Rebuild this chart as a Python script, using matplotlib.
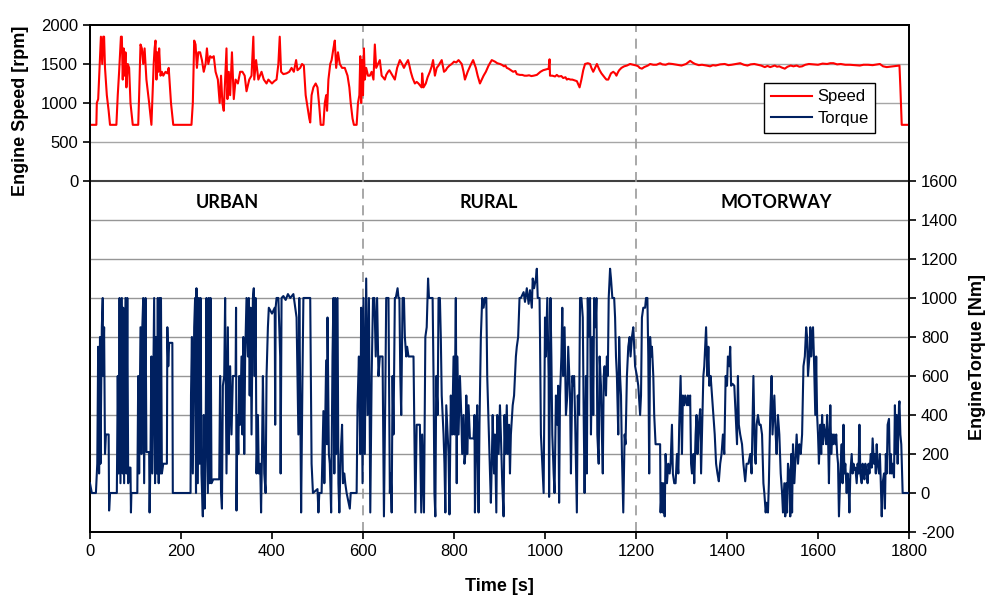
import matplotlib
matplotlib.use("Agg")
import matplotlib.pyplot as plt

plt.rcParams["font.family"] = ["Liberation Sans", "DejaVu Sans"]
plt.rcParams["axes.unicode_minus"] = False

# engine speed trace: (time [s], speed [rpm])
speed_points = [
    (0, 720), (14, 720), (15, 1000), (18, 1050), (22, 1600), (24, 1850), (27, 1500), (29, 1850),
    (31, 1850), (33, 1450), (37, 1100), (41, 900), (44, 720), (58, 720), (61, 1100), (64, 1400),
    (68, 1850), (70, 1850), (72, 1300), (74, 1700), (76, 1350), (78, 1650), (80, 1200), (83, 1500),
    (86, 1450), (89, 1000), (94, 720), (106, 720), (108, 1100), (111, 1750), (114, 1700), (117, 1500),
    (120, 1700), (124, 1300), (127, 1150), (130, 1000), (135, 720), (140, 1500), (142, 1700), (144, 1800),
    (146, 1300), (148, 1650), (150, 1400), (152, 1700), (155, 1350), (158, 1400), (161, 1350), (166, 1400),
    (170, 1380), (173, 1450), (178, 1000), (183, 720), (223, 720), (226, 1000), (229, 1800), (232, 1750),
    (235, 1450), (238, 1650), (242, 1650), (246, 1550), (250, 1400), (254, 1500), (257, 1700), (260, 1500),
    (264, 1600), (268, 1580), (272, 1600), (276, 1400), (281, 1300), (285, 1000), (288, 1350), (291, 1000),
    (294, 900), (297, 1300), (300, 1700), (302, 1050), (305, 1400), (308, 1100), (312, 1650), (316, 1050),
    (320, 1300), (325, 1250), (330, 1400), (335, 1400), (340, 1350), (344, 1150), (350, 1300), (355, 1350),
    (359, 1850), (361, 1300), (365, 1550), (370, 1300), (377, 1400), (382, 1300), (388, 1250), (392, 1300),
    (400, 1250), (405, 1280), (410, 1300), (414, 1500), (417, 1850), (420, 1400), (425, 1370), (432, 1380),
    (438, 1400), (443, 1450), (448, 1400), (453, 1550), (456, 1420), (462, 1450), (466, 1500), (470, 1480),
    (474, 1100), (478, 950), (482, 800), (484, 750), (487, 1100), (491, 1200), (496, 1250), (500, 1200),
    (504, 950), (507, 720), (513, 720), (516, 1000), (519, 1100), (521, 900), (524, 1300), (528, 1500),
    (531, 1550), (535, 1700), (538, 1800), (541, 1450), (545, 1650), (549, 1500), (554, 1450), (560, 1450),
    (566, 1350), (570, 1200), (573, 1000), (577, 800), (580, 720), (586, 720), (589, 1000), (592, 1100),
    (594, 1600), (596, 1000), (598, 1550), (600, 1100), (602, 1700), (604, 1300), (607, 1450), (611, 1350),
    (615, 1350), (619, 1400), (623, 1300), (626, 1750), (629, 1450), (633, 1500), (637, 1550), (641, 1350),
    (644, 1330), (648, 1300), (651, 1360), (655, 1400), (658, 1420), (662, 1380), (666, 1340), (670, 1300),
    (675, 1450), (678, 1500), (681, 1550), (684, 1520), (686, 1500), (690, 1450), (694, 1500), (699, 1550),
    (702, 1480), (705, 1400), (709, 1320), (714, 1250), (718, 1270), (722, 1250), (726, 1220), (729, 1200),
    (730, 1380), (733, 1200), (736, 1230), (738, 1250), (742, 1330), (747, 1400), (751, 1470), (754, 1550),
    (758, 1350), (762, 1450), (766, 1480), (770, 1520), (773, 1550), (778, 1400), (782, 1420), (785, 1450),
    (790, 1480), (795, 1500), (800, 1530), (805, 1520), (810, 1550), (817, 1500), (821, 1400), (824, 1300),
    (827, 1350), (830, 1400), (836, 1480), (842, 1550), (845, 1500), (848, 1450), (852, 1350), (857, 1250),
    (861, 1300), (865, 1350), (870, 1400), (876, 1480), (883, 1550), (890, 1530), (895, 1510), (901, 1500),
    (905, 1490), (910, 1470), (913, 1480), (916, 1450), (920, 1440), (925, 1420), (930, 1400), (935, 1410),
    (938, 1370), (942, 1365), (945, 1360), (950, 1360), (955, 1350), (960, 1350), (965, 1355), (970, 1345),
    (975, 1350), (982, 1360), (986, 1380), (990, 1400), (996, 1420), (1002, 1430), (1008, 1440),
    (1010, 1560), (1011, 1350), (1016, 1350), (1022, 1340), (1026, 1360), (1030, 1340), (1036, 1345),
    (1040, 1320), (1045, 1330), (1048, 1300), (1051, 1310), (1056, 1300), (1060, 1300), (1065, 1290),
    (1070, 1280), (1076, 1200), (1080, 1300), (1084, 1420), (1088, 1500), (1094, 1510), (1099, 1500),
    (1102, 1450), (1106, 1400), (1110, 1450), (1114, 1500), (1117, 1460), (1120, 1420), (1124, 1380),
    (1128, 1350), (1132, 1320), (1135, 1300), (1139, 1300), (1142, 1340), (1145, 1380), (1150, 1400),
    (1154, 1380), (1157, 1350), (1160, 1390), (1163, 1420), (1168, 1450), (1174, 1470), (1180, 1480),
    (1187, 1500), (1194, 1490), (1201, 1480), (1205, 1470), (1208, 1450), (1213, 1440), (1218, 1460),
    (1222, 1470), (1226, 1480), (1231, 1500), (1238, 1490), (1245, 1490), (1253, 1510), (1258, 1495),
    (1265, 1490), (1272, 1505), (1280, 1500), (1290, 1490), (1300, 1480), (1310, 1500), (1319, 1540),
    (1325, 1515), (1330, 1500), (1338, 1485), (1345, 1490), (1355, 1480), (1363, 1470), (1369, 1485),
    (1375, 1480), (1385, 1495), (1395, 1500), (1403, 1485), (1410, 1490), (1420, 1500), (1429, 1510),
    (1437, 1490), (1445, 1480), (1452, 1495), (1460, 1500), (1468, 1490), (1475, 1480), (1483, 1460),
    (1489, 1475), (1495, 1460), (1500, 1470), (1505, 1480), (1510, 1465), (1515, 1470), (1520, 1455),
    (1527, 1440), (1533, 1465), (1540, 1480), (1546, 1470), (1553, 1480), (1559, 1465), (1565, 1470),
    (1572, 1490), (1580, 1500), (1590, 1495), (1600, 1490), (1610, 1505), (1620, 1500), (1627, 1510),
    (1634, 1510), (1642, 1495), (1650, 1500), (1660, 1490), (1670, 1490), (1680, 1485), (1692, 1480),
    (1700, 1490), (1710, 1490), (1720, 1485), (1736, 1500), (1743, 1470), (1751, 1460), (1758, 1465),
    (1765, 1470), (1772, 1475), (1779, 1480), (1781, 1200), (1784, 720), (1800, 720),
]

# engine torque trace, (time [s], torque [Nm]), one list per phase
torque_urban = [
    (0, 50), (4, 0), (13, 0), (16, 150), (18, 750), (20, 100), (22, 800), (23, 150), (26, 850), (28, 1000),
    (29, 600), (31, 850), (33, 200), (35, 300), (41, 300), (42, -90), (44, 0), (59, 0), (61, 600), (63, 100),
    (65, 1000), (67, 50), (70, 1000), (72, 100), (73, 950), (75, 50), (78, 1000), (80, 100), (82, 1000),
    (84, 50), (86, 130), (89, 130), (90, -100), (91, 0), (104, 0), (106, 600), (108, 100), (111, 850),
    (113, 200), (115, 850), (117, 1000), (119, 50), (122, 1000), (124, 210), (130, 210), (131, -100),
    (133, 200), (135, 700), (137, 100), (141, 1000), (143, 50), (145, 800), (147, 100), (149, 1000),
    (151, 50), (153, 1000), (155, 100), (156, 1000), (158, 100), (161, 150), (169, 150), (170, 850),
    (172, 650), (174, 770), (181, 770), (182, 0), (221, 0), (222, 500), (224, 800), (226, 100), (229, 850),
    (231, 1000), (233, 0), (234, 1050), (237, 50), (239, 1000), (241, 150), (243, 1000), (245, 100),
    (248, -120), (250, 400), (252, -80), (254, 200), (256, 1000), (259, 0), (261, 1000), (263, 50),
    (265, 1000), (267, 50), (271, 70), (284, 70), (286, 600), (288, 0), (290, -80), (292, 550), (295, 600),
    (297, 1000), (300, 100), (303, 850), (305, 200), (308, 650), (311, 300), (314, 600), (320, 600),
    (321, 950), (322, -90), (324, 400), (326, 200), (328, 600), (330, 350), (333, 700), (335, 300),
    (337, 800), (339, 200), (341, 700), (344, 1000), (347, 700), (349, 1000), (351, 500), (353, 950),
    (355, 300), (358, 1000), (360, 1050), (362, 600), (364, 1000), (366, 100), (369, 400), (371, 100),
    (374, 150), (376, -100), (378, 200), (380, 600), (383, 100), (386, 0), (388, 600), (391, 850),
    (393, 950), (400, 920), (406, 950), (407, 350), (408, 950), (410, 1000), (414, 1000), (418, 700),
    (419, 100), (421, 1000), (425, 1010), (430, 990), (435, 1020), (440, 1000), (447, 1020), (451, 950),
    (454, 900), (458, 300), (460, 1000), (462, 500), (464, -100), (467, 600), (469, 1000), (484, 1000),
    (487, 150), (490, 0), (500, 20), (502, -100), (504, 0), (509, 0), (513, 420), (515, 50), (519, 680),
    (521, 250), (522, 900), (525, 200), (527, 150), (530, -100), (533, 700), (535, 1000), (537, 100),
    (539, 1000), (541, 200), (544, 1000), (546, 50), (548, -100), (551, 200), (554, 350), (556, 50),
    (559, 100), (561, 50), (564, 0), (571, -80), (573, 0), (586, 0), (588, 450), (591, 700), (594, 200),
    (596, 950), (599, 50),
]
torque_rural = [
    (601, 1000), (604, 200), (607, 1100), (610, 400), (613, 1000), (616, -100), (619, 600), (622, 1000),
    (625, 1000), (628, 700), (631, 1000), (634, 600), (637, 700), (643, 700), (646, -120), (649, 500),
    (651, 1000), (656, 1000), (659, 0), (661, 100), (663, -100), (665, 600), (667, 300), (670, 1000),
    (672, 1000), (676, 1050), (678, 1000), (680, 1000), (682, 600), (684, 400), (687, 1000), (690, 1000),
    (692, 800), (695, 700), (697, 750), (700, 700), (711, 700), (713, 300), (715, -100), (718, 350),
    (725, 350), (728, -100), (730, 300), (732, 100), (734, -100), (737, 800), (740, 850), (743, 1100),
    (745, 1000), (749, 1000), (753, 1000), (755, 600), (757, 0), (759, -120), (761, 600), (764, 400),
    (766, 1000), (769, 1000), (771, 800), (773, 500), (777, 300), (779, 150), (781, -100), (783, 450),
    (786, 300), (788, 200), (790, -110), (793, 500), (796, 300), (799, 700), (801, 300), (804, 1000),
    (806, 50), (807, 700), (810, 300), (813, 600), (816, 400), (818, 200), (821, 400), (823, 150),
    (825, 200), (827, 500), (828, 400), (829, 200), (832, 450), (835, 280), (843, 280), (845, 400),
    (846, -100), (849, 300), (851, 450), (854, -100), (856, 350), (859, 800), (862, 1000), (865, 950),
    (868, 1000), (871, 1000), (873, 600), (876, 350), (879, 100), (881, -50), (883, 150), (885, 400),
    (888, 100), (890, 300), (893, -100), (895, 400), (898, 200), (901, 450), (903, 300), (906, 50),
    (909, -120), (911, 400), (913, 200), (916, 450), (918, 200), (921, 350), (923, 100), (925, 300),
    (929, 450), (932, 500), (936, 700), (938, 750), (941, 800), (944, 1000), (947, 1000), (953, 1030),
    (956, 980), (960, 1050), (964, 970), (967, 1040), (971, 950), (973, 1100), (976, 1050), (980, 1100),
    (982, 1150), (984, 1000), (988, 1000), (989, 800), (991, 300), (995, 100), (997, 0), (1000, 900),
    (1002, 700), (1005, 1000), (1008, 600), (1009, -20), (1012, 1000), (1014, 700), (1016, 300),
    (1019, 100), (1021, 0), (1024, 500), (1027, 350), (1029, 550), (1031, -50), (1033, 500), (1036, 700),
    (1038, 950), (1040, 600), (1043, 850), (1046, 400), (1049, 500), (1051, 750), (1055, 500), (1057, 100),
    (1060, 600), (1062, 550), (1064, 600), (1066, 400), (1070, -100), (1072, 500), (1075, 400),
    (1077, 1000), (1080, 1000), (1083, 900), (1085, 400), (1087, 0), (1090, 600), (1092, 100),
    (1094, 1000), (1096, 800), (1099, 1000), (1101, 300), (1104, 800), (1106, 400), (1108, 1000),
    (1111, 850), (1113, 1000), (1115, 300), (1118, 150), (1120, 700), (1123, 550), (1125, 300),
    (1127, 100), (1129, 600), (1131, 650), (1134, 500), (1136, 700), (1138, 600), (1140, 1000),
    (1143, 1150), (1145, 1100), (1148, 1000), (1152, 1000), (1154, 900), (1156, 700), (1158, 600),
    (1161, 300), (1163, 800), (1165, 600), (1167, 500), (1169, 200), (1172, -100), (1175, 300),
    (1177, 250), (1180, 600), (1183, 750), (1186, 800), (1188, 700), (1191, 800), (1194, 850),
    (1198, 650),
]
torque_motorway = [
    (1202, 600), (1205, 550), (1209, 400), (1211, 500), (1213, 900), (1216, 950), (1220, 950),
    (1222, 1000), (1225, 1000), (1227, 700), (1229, 100), (1231, 800), (1233, 700), (1235, 750),
    (1238, 600), (1240, 400), (1243, 250), (1253, 250), (1254, -100), (1257, 50), (1259, -100),
    (1260, 50), (1263, -120), (1265, 200), (1268, 50), (1271, 150), (1274, 100), (1276, 150),
    (1279, 350), (1281, 100), (1284, 50), (1287, 50), (1290, 200), (1293, 100), (1295, 350), (1298, 600),
    (1301, 200), (1303, 500), (1306, 450), (1308, 500), (1312, 450), (1314, 500), (1316, 450),
    (1319, 500), (1321, 150), (1323, 100), (1326, 200), (1328, 50), (1331, 300), (1333, 400), (1335, 200),
    (1338, 350), (1341, 430), (1343, 100), (1345, 300), (1348, 600), (1350, 650), (1353, 800),
    (1354, 850), (1357, 600), (1359, 750), (1361, 550), (1364, 600), (1367, 500), (1370, 400),
    (1373, 300), (1376, 150), (1379, 100), (1382, 60), (1385, 150), (1388, 200), (1391, 300), (1394, 200),
    (1397, 600), (1400, 550), (1402, 700), (1405, 650), (1407, 750), (1409, 550), (1412, 560),
    (1416, 550), (1419, 400), (1422, 250), (1424, 600), (1426, 350), (1429, 300), (1433, 250),
    (1436, 150), (1440, 60), (1443, 150), (1447, 150), (1451, 200), (1454, 100), (1458, 600), (1461, 200),
    (1463, 150), (1465, 350), (1468, 400), (1471, 350), (1474, 350), (1477, 300), (1480, 50), (1482, 0),
    (1485, -100), (1487, -50), (1490, -100), (1492, 50), (1495, 400), (1498, 600), (1500, 300),
    (1502, 400), (1504, 500), (1507, 300), (1509, 200), (1512, 400), (1515, 300), (1518, 100), (1521, 0),
    (1523, -100), (1526, 50), (1528, -120), (1530, 50), (1532, -100), (1534, 150), (1537, 100),
    (1539, -120), (1541, 200), (1543, -100), (1545, 250), (1548, 50), (1550, 150), (1553, 300),
    (1556, 150), (1559, 250), (1562, 200), (1565, 300), (1568, 650), (1571, 700), (1574, 850),
    (1576, 800), (1578, 600), (1581, 700), (1583, 850), (1585, 700), (1587, 800), (1589, 850),
    (1591, 700), (1594, 400), (1596, 700), (1598, 400), (1600, 300), (1602, 150), (1605, 350),
    (1607, 200), (1609, 400), (1611, 250), (1613, 350), (1616, 300), (1618, 250), (1620, 400),
    (1622, 300), (1624, 50), (1627, 450), (1629, 200), (1631, 300), (1633, 250), (1635, 300),
    (1638, 250), (1640, 300), (1642, 200), (1644, 150), (1646, -120), (1649, 100), (1652, 250),
    (1654, 50), (1656, 350), (1658, 100), (1660, 150), (1663, 0), (1665, 100), (1667, 50), (1669, -100),
    (1671, 100), (1674, 200), (1676, 100), (1678, 150), (1680, 120), (1682, 130), (1685, 50), (1687, 150),
    (1689, 100), (1691, 350), (1693, 100), (1696, 50), (1698, 150), (1700, 100), (1702, 70), (1704, 150),
    (1707, 100), (1709, 50), (1711, 150), (1713, 100), (1716, 200), (1718, 130), (1720, 280), (1723, 150),
    (1725, 200), (1727, 100), (1729, 250), (1731, 150), (1734, 100), (1736, 200), (1738, 50),
    (1740, -120), (1742, 50), (1745, 100), (1747, -80), (1749, 200), (1751, 100), (1753, 350),
    (1756, 380), (1758, 100), (1760, 200), (1762, 100), (1764, 150), (1767, 80), (1769, 450), (1771, 200),
    (1773, 400), (1775, 150), (1778, 450), (1779, 470), (1781, 300), (1783, 250), (1786, 0), (1800, 0),
]

phase_names = ["URBAN", "RURAL", "MOTORWAY"]
phase_label_t = [301, 877, 1508]
phase_bounds = [600, 1200]

speed_ticks = [0, 500, 1000, 1500, 2000]
torque_ticks = [-200, 0, 200, 400, 600, 800, 1000, 1200, 1400, 1600]
time_ticks = [0, 200, 400, 600, 800, 1000, 1200, 1400, 1600, 1800]

speed_t = [p[0] for p in speed_points]
speed_rpm = [p[1] for p in speed_points]
torque_all = torque_urban + torque_rural + torque_motorway
torque_t = [p[0] for p in torque_all]
torque_nm = [p[1] for p in torque_all]

fig = plt.figure(figsize=(9.9, 6.02), dpi=100)
ax = fig.add_axes([0.0909, 0.1163, 0.8273, 0.8422])
ax2 = ax.twinx()

# grid lines (speed part on left axis, torque part on right axis)
for v in speed_ticks[1:-1]:
    ax.axhline(v, color="#a6a6a6", lw=1.0, zorder=1)
ax.axhline(0, color="#404040", lw=1.5, zorder=1)
for v in torque_ticks[1:-1]:
    ax2.axhline(v, color="#969696", lw=1.0, zorder=1)
for b in phase_bounds:
    ax.axvline(b, color="#999999", lw=1.2, ls=(0, (6, 4)), zorder=1)

l1, = ax.plot(speed_t, speed_rpm, color="#ff0000", lw=1.5, zorder=3, label="Speed")
l2, = ax2.plot(torque_t, torque_nm, color="#002060", lw=1.5, zorder=3, label="Torque")

ax.set_xlim(0, 1800)
ax.set_ylim(-4500, 2000)
ax2.set_ylim(-200, 2400)
ax.set_xticks(time_ticks)
ax.set_yticks(speed_ticks)
ax2.set_yticks(torque_ticks)

for a in (ax, ax2):
    a.tick_params(labelsize=12, direction="out", length=5, width=1.2, colors="black")
    for s in a.spines.values():
        s.set_linewidth(1.3)
        s.set_color("black")

ax.set_xlabel("Time [s]", fontsize=13, fontweight="bold", labelpad=14)
ax.set_ylabel("Engine Speed [rpm]", fontsize=13, fontweight="bold")
ax.yaxis.set_label_coords(-0.074, 0.83)
ax2.set_ylabel("EngineTorque [Nm]", fontsize=13, fontweight="bold", rotation=90)
ax2.yaxis.set_label_coords(1.073, 0.345)

for name, t in zip(phase_names, phase_label_t):
    ax2.text(t, 1490, name, ha="center", va="center", fontsize=13,
             fontweight="bold", family=["Lato", "DejaVu Sans"])

leg = ax2.legend([l1, l2], ["Speed", "Torque"], loc="upper left",
                 bbox_to_anchor=(0.823, 0.886), borderaxespad=0, fontsize=12,
                 fancybox=False, framealpha=1, edgecolor="black", handlelength=2.5,
                 handletextpad=0.3, borderpad=0.4, labelspacing=0.4)
leg.get_frame().set_linewidth(1.0)

fig.savefig("out.png", dpi=100)
